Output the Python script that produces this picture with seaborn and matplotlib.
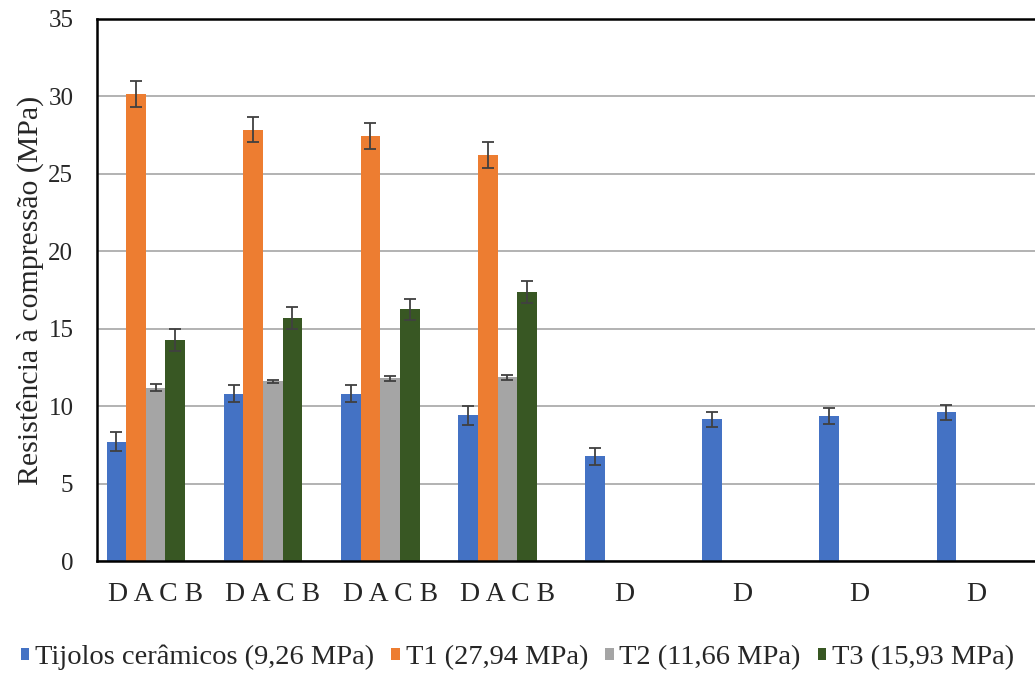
import numpy as np
import pandas as pd
import seaborn as sns
import matplotlib.pyplot as plt

# dados
grupos = ['G1', 'G2', 'G3', 'G4', 'G5', 'G6', 'G7', 'G8']
rotulos = ['D A C B', 'D A C B', 'D A C B', 'D A C B', 'D', 'D', 'D', 'D']
series = ['Tijolos cerâmicos (9,26 MPa)', 'T1 (27,94 MPa)', 'T2 (11,66 MPa)', 'T3 (15,93 MPa)']
cores = ['#4472C4', '#ED7D31', '#A5A5A5', '#385723']

tijolos = [7.7, 10.8, 10.8, 9.4, 6.75, 9.15, 9.35, 9.6]
tijolos_err = [0.6, 0.55, 0.55, 0.6, 0.55, 0.5, 0.5, 0.5]
t1 = [30.15, 27.85, 27.45, 26.2]
t1_err = [0.85, 0.8, 0.85, 0.85]
t2 = [11.2, 11.6, 11.8, 11.85]
t2_err = [0.2, 0.1, 0.15, 0.15]
t3 = [14.25, 15.7, 16.25, 17.35]
t3_err = [0.7, 0.7, 0.7, 0.7]

linhas = []
for serie, valores in zip(series, [tijolos, t1, t2, t3]):
    for g, v in zip(grupos, valores):
        linhas.append({'grupo': g, 'serie': serie, 'valor': v})
df = pd.DataFrame(linhas)

sns.set_theme(style='white')
plt.rcParams['font.family'] = ['Liberation Serif', 'DejaVu Serif']

paleta = dict(zip(series, cores))
paleta['vazio'] = 'white'

fig = plt.figure(figsize=(10.35, 6.73), dpi=100)
ax = fig.add_axes([0.0937, 0.1664, 0.9063, 0.8054])

# grupos com quatro traços (um espaço vazio no fim, como no Excel)
sns.barplot(data=df[df['grupo'].isin(grupos[:4])], x='grupo', y='valor', hue='serie',
            order=grupos, hue_order=series + ['vazio'], palette=paleta, dodge=True,
            width=0.8375, saturation=1, errorbar=None, linewidth=0, ax=ax)
# grupos só com tijolos
sns.barplot(data=df[df['grupo'].isin(grupos[4:])], x='grupo', y='valor', hue='serie',
            order=grupos, hue_order=series, palette=paleta, dodge=True,
            width=0.68, saturation=1, errorbar=None, linewidth=0, legend=False, ax=ax)

barras = [c for c in ax.containers if len(c) > 0]
erros = [tijolos_err[:4], t1_err, t2_err, t3_err, tijolos_err[4:]]
for cont, err in zip(barras, erros):
    xs = [b.get_x() + b.get_width() / 2 for b in cont]
    ys = [b.get_height() for b in cont]
    ax.errorbar(xs, ys, yerr=err, fmt='none', ecolor='#404040', elinewidth=1.3,
                capsize=4, capthick=1.3, zorder=5)

leg = ax.get_legend()
handles = [h for h, t in zip(leg.legend_handles, leg.get_texts()) if t.get_text() != 'vazio']
labels = [t.get_text() for t in leg.get_texts() if t.get_text() != 'vazio']
leg.remove()
fig.legend(handles, labels, loc='lower center', bbox_to_anchor=(0.5, 0.0), ncol=4,
           frameon=False, fontsize=20.5, handlelength=0.3, handleheight=0.3,
           handletextpad=0.2, columnspacing=0.6, borderaxespad=0.05, borderpad=0.05)

ax.set_ylim(0, 35)
ax.set_yticks(np.arange(0, 36, 5))
ax.set_xlim(-0.5, 7.48)
ax.set_xticks(range(len(grupos)))
ax.set_xticklabels(rotulos)
ax.set_xticks(np.arange(-0.5, 8, 1), minor=True)
ax.tick_params(axis='x', which='major', length=0, pad=15, labelsize=20)
ax.tick_params(axis='x', which='minor', length=5, width=1.5, color='black', direction='out')
ax.tick_params(axis='y', length=4, width=1.5, color='black', direction='out', pad=13, labelsize=18)
ax.yaxis.grid(True, color='#A6A6A6', linewidth=1.2)
ax.set_axisbelow(True)

for lado in ['left', 'bottom', 'top']:
    ax.spines[lado].set_color('black')
    ax.spines[lado].set_linewidth(1.8)
ax.spines['right'].set_visible(False)

ax.set_xlabel('')
ax.set_ylabel('Resistência à compressão (MPa)', fontsize=21.5, labelpad=3)

fig.savefig('out.png', dpi=100)
